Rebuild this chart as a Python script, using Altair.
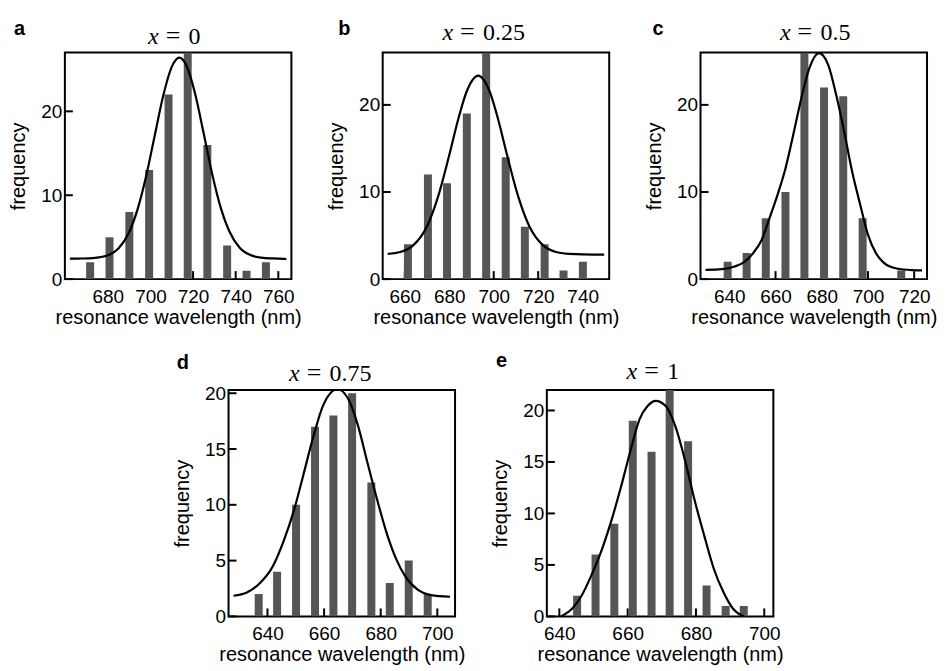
import altair as alt
import pandas as pd

# ---------------- data ----------------
panel_letters = ["a", "b", "c", "d", "e"]
x_values = ["0", "0.25", "0.5", "0.75", "1"]

a_wl = [671.7, 680.8, 690.1, 699.4, 708.5, 717.5, 726.7, 736.0, 745.1, 754.2]
a_count = [2, 5, 8, 13, 22, 27, 16, 4, 1, 2]
a_fit_wl = [662.2, 668, 674, 680, 685, 690, 694, 698, 702, 706, 710, 713.6,
            717, 721, 725, 729, 733, 737, 742, 748, 754, 760, 763.8]
a_fit_freq = [2.45, 2.46, 2.53, 2.84, 3.65, 5.59, 8.35, 12.3, 17.1, 21.85, 25.3, 26.4,
              25.4, 22.06, 17.35, 12.5, 8.5, 5.7, 3.7, 2.77, 2.51, 2.45, 2.4]

b_wl = [661.4, 670.4, 679.0, 687.9, 696.6, 705.4, 714.0, 722.9, 731.4, 740.1]
b_count = [4, 12, 11, 19, 26, 14, 6, 4, 1, 2]
b_fit_wl = [652.3, 658, 664, 670, 675, 680, 684, 688, 693, 698, 702, 706, 711,
            716, 722, 728, 734, 740, 749.7]
b_fit_freq = [2.89, 3.11, 3.93, 6.08, 9.5, 14.24, 18.33, 21.65, 23.36, 21.65, 18.33,
              14.24, 9.5, 6.08, 3.93, 3.11, 2.89, 2.83, 2.82]

c_wl = [639.3, 647.5, 655.8, 664.3, 672.5, 681.0, 689.3, 697.7, 714.4]
c_count = [2, 3, 7, 10, 26, 22, 21, 7, 1]
c_fit_wl = [629.7, 636.8, 642.3, 646.4, 650.5, 654.0, 657.4, 660.9, 664.3, 667.7,
            671.2, 674.6, 678.8, 682.8, 686.3, 689.7, 693.1, 696.6, 700.0, 703.4,
            706.9, 712.4, 719.2, 723.4]
c_fit_freq = [1.07, 1.15, 1.45, 1.95, 3.05, 4.5, 7.0, 9.7, 12.7, 16.6, 20.8, 24.2,
              25.95, 24.6, 21.1, 16.95, 12.4, 8.6, 5.1, 3.0, 1.87, 1.22, 1.03, 1.0]

d_wl = [636.9, 643.4, 650.1, 656.8, 663.3, 669.9, 676.7, 683.2, 689.9, 696.6]
d_count = [2, 4, 10, 17, 18, 20, 12, 3, 5, 2]
d_fit_wl = [628.0, 632.7, 637.2, 641.7, 645.6, 649.5, 652.9, 656.3, 659.6, 664.7,
            668.6, 672.0, 675.3, 678.7, 682.0, 685.4, 688.8, 693.3, 697.7, 704.5]
d_fit_freq = [1.85, 2.14, 2.95, 4.4, 6.67, 9.64, 12.9, 16.2, 18.87, 20.36, 19.46,
              17.08, 13.8, 10.5, 7.56, 5.18, 3.54, 2.35, 1.90, 1.76]

e_wl = [645.2, 650.6, 656.1, 661.5, 667.0, 672.3, 677.7, 683.1, 688.7, 694.0]
e_count = [2, 6, 9, 19, 16, 22, 17, 3, 1, 1]
e_fit_wl = [640.5, 643.8, 646.6, 649.4, 652.2, 655.1, 657.9, 660.7, 663.5, 665.9,
            668.2, 671.1, 673.9, 676.7, 679.5, 682.4, 685.2, 688.0, 690.8, 694.1]
e_fit_freq = [0, 0.77, 2.06, 4.0, 6.26, 9.16, 12.39, 15.94, 19.16, 20.45, 20.94,
              20.45, 18.52, 15.29, 11.42, 7.87, 4.65, 2.39, 0.77, 0]

x_ticks = [[680, 700, 720, 740, 760], [660, 680, 700, 720, 740],
           [640, 660, 680, 700, 720], [640, 660, 680, 700], [640, 660, 680, 700]]
y_ticks = [[0, 10, 20], [0, 10, 20], [0, 10, 20], [0, 5, 10, 15, 20], [0, 5, 10, 15, 20]]
x_domains = [[662.2, 763.8], [652.3, 749.7], [629.7, 723.4], [628.0, 704.5], [637.8, 701.2]]
y_domains = [[0, 27.0], [0, 26.0], [0, 26.0], [0, 20.3], [0, 22.0]]

# ---------------- layout / style ----------------
W, H = 227, 227
SANS = "Liberation Sans"
SERIF = "Liberation Serif"
BAR = "#555555"
# letter (x, y) and title anchor (x boundary, baseline y) relative to plot frame
letter_pos = [(-51, -17.7), (-44.5, -17.7), (-48, -17.7), (-52, -20.8), (-51, -22.5)]
title_pos = [(94, -8.7), (70.5, -12.7), (90.3, -12.7), (71.3, -9.2), (90.6, -10.8)]


def panel(i, wl, cnt, fwl, ffreq):
    xs = alt.Scale(domain=x_domains[i], nice=False, zero=False)
    ys = alt.Scale(domain=y_domains[i], nice=False, zero=False)
    xax = alt.Axis(values=x_ticks[i], title="resonance wavelength (nm)", grid=False,
                   domain=False, ticks=False, tickSize=0, labelFont=SANS,
                   labelFontSize=19, labelColor="black", labelPadding=8,
                   labelFlush=False, labelOverlap=False, format="d",
                   titleFont=SANS, titleFontSize=20, titleFontWeight="normal",
                   titleColor="black", titlePadding=1, minExtent=27, maxExtent=27)
    yax = alt.Axis(values=y_ticks[i], title="frequency", grid=False, domain=False,
                   ticks=False, tickSize=0, labelFont=SANS, labelFontSize=19,
                   labelColor="black", labelPadding=3, labelFlush=False,
                   labelOverlap=False, format="d", titleFont=SANS, titleFontSize=20,
                   titleFontWeight="normal", titleColor="black", titlePadding=11,
                   minExtent=25, maxExtent=25)
    X = alt.X("wl:Q", scale=xs, axis=xax)
    Y = alt.Y("n:Q", scale=ys, axis=yax)

    xt = alt.Chart(pd.DataFrame({"wl": x_ticks[i]})).mark_rule(
        color="black", strokeWidth=2).encode(x=X, y=alt.value(H), y2=alt.value(H - 8))
    yt = alt.Chart(pd.DataFrame({"n": y_ticks[i]})).mark_rule(
        color="black", strokeWidth=2).encode(y=Y, x=alt.value(0), x2=alt.value(8))
    bars = alt.Chart(pd.DataFrame({"wl": wl, "n": cnt})).mark_bar(
        size=8, color=BAR, clip=True).encode(x=X, y=Y)
    fit = alt.Chart(pd.DataFrame({"wl": fwl, "n": ffreq})).mark_line(
        color="black", strokeWidth=2.2, interpolate="monotone", clip=True).encode(x=X, y=Y)

    lx, ly = letter_pos[i]
    tx, ty = title_pos[i]
    letter = alt.Chart(pd.DataFrame({"s": [panel_letters[i]]})).mark_text(
        font=SANS, fontSize=20, fontWeight="bold", align="left", baseline="alphabetic",
        color="black").encode(text="s:N", x=alt.value(lx), y=alt.value(ly))
    tvar = alt.Chart(pd.DataFrame({"s": ["x"]})).mark_text(
        font=SERIF, fontSize=24, fontStyle="italic", align="right",
        baseline="alphabetic", color="black").encode(text="s:N", x=alt.value(tx), y=alt.value(ty))
    teq = alt.Chart(pd.DataFrame({"s": ["="]})).mark_text(
        font=SERIF, fontSize=26, align="left", baseline="alphabetic",
        color="black").encode(text="s:N", x=alt.value(tx + 7), y=alt.value(ty))
    tval = alt.Chart(pd.DataFrame({"s": [x_values[i]]})).mark_text(
        font=SERIF, fontSize=24, align="left", baseline="alphabetic",
        color="black").encode(text="s:N", x=alt.value(tx + 30), y=alt.value(ty))

    return alt.layer(xt, yt, bars, fit, letter, tvar, teq, tval).properties(width=W, height=H)


pa = panel(0, a_wl, a_count, a_fit_wl, a_fit_freq)
pb = panel(1, b_wl, b_count, b_fit_wl, b_fit_freq)
pc = panel(2, c_wl, c_count, c_fit_wl, c_fit_freq)
pdd = panel(3, d_wl, d_count, d_fit_wl, d_fit_freq)
pe = panel(4, e_wl, e_count, e_fit_wl, e_fit_freq)

spacer = alt.Chart(pd.DataFrame({"s": [""]})).mark_text().encode(
    text="s:N", x=alt.value(0), y=alt.value(0)).properties(
    width=72, height=H, view=alt.ViewBackground(stroke="transparent"))

top = alt.hconcat(pa, pb, pc, spacing=91.5, bounds="flush")
bottom = alt.hconcat(spacer, pdd, pe, spacing=92, bounds="flush")

chart = alt.vconcat(top, bottom, spacing=22).properties(
    padding={"left": 0, "top": 9, "right": 0, "bottom": 0}
).configure(background="white").configure_view(stroke="black", strokeWidth=2)

chart.save("out.html", embed_options={"renderer": "svg", "actions": False})
